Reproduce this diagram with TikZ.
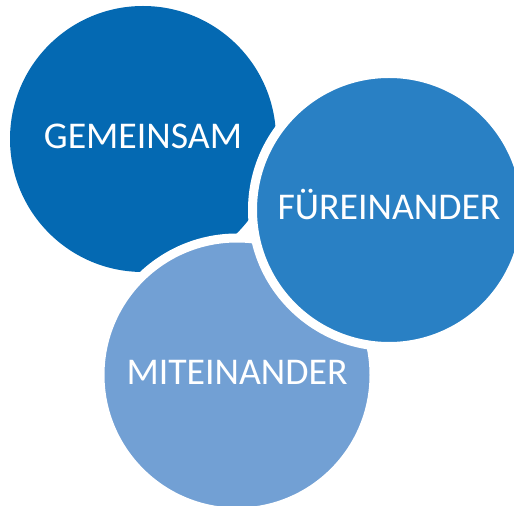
\documentclass[tikz,border=0pt]{standalone}
\usepackage{fontspec}
\setmainfont{Carlito}
\usepackage{tikz}

\definecolor{gemblue}{RGB}{4,105,178}
\definecolor{furblue}{RGB}{41,128,196}
\definecolor{mitblue}{RGB}{114,160,212}

\begin{document}
\begin{tikzpicture}[x=0.02cm,y=-0.02cm,
    bubble/.style={circle, inner sep=0pt, text=white, text height=14pt, text depth=0pt,
        font=\fontsize{21.5}{24}\selectfont},
    ring/.style={draw=white, line width=9*0.02cm}]
    \useasboundingbox (0,0) rectangle (514,506);

    \node[bubble, fill=gemblue, minimum size=266*0.02cm] (gem) at (143,139) {};
    \node[bubble, fill=mitblue, ring, minimum size=274*0.02cm] (mit) at (237,375) {};
    \node[bubble, fill=furblue, ring, minimum size=273*0.02cm] (fur) at (389,210) {};

    \node[bubble] (gemtext) at (143,136) {GEMEINSAM};
    \node[bubble] (furtext) at (389,207) {FÜREINANDER};
    \node[bubble] (mittext) at (237,372) {MITEINANDER};
    %\draw[red] (gem.center) -- (fur.center) -- (mit.center) -- cycle;
\end{tikzpicture}
\end{document}
